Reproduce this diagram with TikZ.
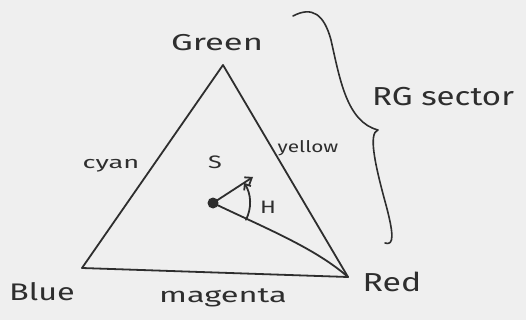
\documentclass[tikz,border=0pt]{standalone}
\usepackage{fontspec}
\usepackage{graphicx}
\setmainfont{Fira Sans}
\usetikzlibrary{arrows.meta,calc}
\definecolor{ink}{HTML}{2E2E2E}
\definecolor{paper}{HTML}{EFEFEF}
\tikzset{
  pen/.style={draw=ink, line width=1.8pt, line cap=round, line join=round},
  lbl/.style={text=ink, inner sep=0pt, anchor=center},
}
\newcommand{\wide}[2]{\scalebox{#1}[1]{#2}}
\begin{document}
\begin{tikzpicture}[x=1pt,y=-1pt]
\fill[paper] (0,0) rectangle (526,320);
\useasboundingbox (0,0) rectangle (526,320);
% corners
\coordinate (G) at (223,65);
\coordinate (B) at (82,268);
\coordinate (R) at (348,277);
\coordinate (dot) at (213,203);
\coordinate (tip) at (253,177);
% triangle
\draw[pen] (B) -- (G) -- (R) -- cycle;
% labels
\node[lbl, font=\fontsize{23}{26}\selectfont] (lG) at (217,43) {\wide{1.5}{Green}};
\node[lbl, font=\fontsize{24}{28}\selectfont] (lB) at (42,292) {\wide{1.35}{Blue}};
\node[lbl, font=\fontsize{26}{30}\selectfont] (lR) at (392,282) {\wide{1.3}{Red}};
\node[lbl, font=\fontsize{21}{24}\selectfont] (lM) at (223,298) {\wide{1.55}{magenta}};
\node[lbl, font=\fontsize{17}{20}\selectfont] (lC) at (111,166) {\wide{1.6}{cyan}};
\node[lbl, font=\fontsize{16}{19}\selectfont] (lY) at (308,148) {\wide{1.3}{yellow}};
\node[lbl, font=\fontsize{18}{21}\selectfont] (lS) at (215,162) {\wide{1.4}{S}};
\node[lbl, font=\fontsize{18}{21}\selectfont] (lH) at (268,207) {\wide{1.3}{H}};
\node[lbl, font=\fontsize{26}{30}\selectfont] (lRG) at (443,97) {\wide{1.27}{RG sector}};
% hue point and vectors
\fill[ink] (dot) circle (5.5pt);
\draw[pen] (dot) .. controls (265,228) and (315,248) .. (R);
\draw[pen, -{Straight Barb[length=6pt,width=9pt]}] (dot) -- (tip);
\draw[pen, -{Straight Barb[length=5pt,width=8pt]}] ($(dot)+(-27:37pt)$) arc[start angle=-27, end angle=33, radius=37pt];
% brace
\draw[pen, line width=1.6pt] (293,16) .. controls (312,6) and (324,14) .. (331,40)
  .. controls (340,80) and (347,122) .. (378,130)
  .. controls (368,133) and (375,165) .. (386,205)
  .. controls (394,235) and (394,246) .. (385,243);
\end{tikzpicture}
\end{document}
